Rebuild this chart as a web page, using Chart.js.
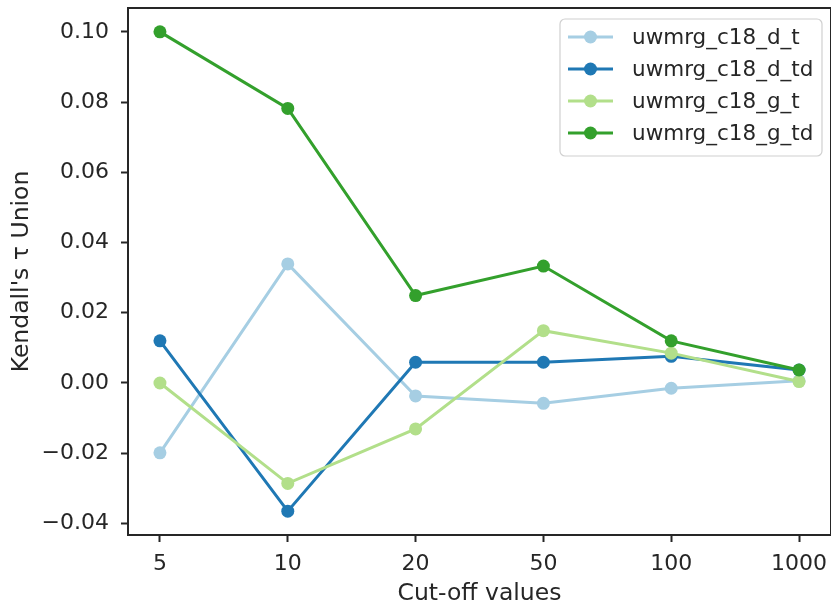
<!DOCTYPE html>
<html>
<head>
<meta charset="utf-8">
<script src="https://cdn.jsdelivr.net/npm/chart.js@4.4.0/dist/chart.umd.min.js"></script>
<style>
  html, body { margin: 0; padding: 0; background: #fff; }
  #wrap { width: 831px; height: 606px; }
</style>
</head>
<body>
<div id="wrap"><canvas id="chart" width="831" height="606"></canvas></div>
<script>
// Data
const cutoffs = ['5', '10', '20', '50', '100', '1000'];
const yTicks = [-0.04, -0.02, 0.00, 0.02, 0.04, 0.06, 0.08, 0.10];

const seriesNames = ['uwmrg_c18_d_t', 'uwmrg_c18_d_td', 'uwmrg_c18_g_t', 'uwmrg_c18_g_td'];
const dT  = [-0.0199, 0.0339, -0.0037, -0.0058, -0.0015, 0.0006];
const dTd = [0.0120, -0.0365, 0.0059, 0.0059, 0.0076, 0.0037];
const gT  = [0.0000, -0.0286, -0.0131, 0.0149, 0.0085, 0.0004];
const gTd = [0.1000, 0.0782, 0.0249, 0.0333, 0.0120, 0.0037];

const colors = ['#a6cee3', '#1f78b4', '#b2df8a', '#33a02c'];
const ink = '#262626';
const font = "'DejaVu Sans', sans-serif";

const toPoints = (vals) => vals.map((v, i) => ({ x: i, y: v }));

// ── frame + legend drawn inside the plot, like matplotlib ──
const framePlugin = {
    id: 'frame',
    afterDraw(chart) {
        const { ctx, chartArea: a } = chart;
        ctx.save();
        ctx.strokeStyle = ink;
        ctx.lineWidth = 2;
        ctx.strokeRect(a.left, a.top, a.right - a.left, a.bottom - a.top);

        // legend box
        const bx = 560, by = 19, bw = 262, bh = 137, r = 5;
        ctx.beginPath();
        ctx.moveTo(bx + r, by);
        ctx.arcTo(bx + bw, by, bx + bw, by + bh, r);
        ctx.arcTo(bx + bw, by + bh, bx, by + bh, r);
        ctx.arcTo(bx, by + bh, bx, by, r);
        ctx.arcTo(bx, by, bx + bw, by, r);
        ctx.closePath();
        ctx.fillStyle = 'rgba(255,255,255,0.8)';
        ctx.fill();
        ctx.strokeStyle = '#d0d0d0';
        ctx.lineWidth = 1.2;
        ctx.stroke();

        ctx.font = '21.5px ' + font;
        ctx.textBaseline = 'middle';
        ctx.textAlign = 'left';
        chart.data.datasets.forEach((ds, i) => {
            const y = 37 + i * 32;
            ctx.strokeStyle = ds.borderColor;
            ctx.lineWidth = 3;
            ctx.beginPath();
            ctx.moveTo(568, y);
            ctx.lineTo(613, y);
            ctx.stroke();
            ctx.fillStyle = ds.borderColor;
            ctx.beginPath();
            ctx.arc(590.5, y, 6.5, 0, Math.PI * 2);
            ctx.fill();
            ctx.fillStyle = ink;
            ctx.fillText(ds.label, 632, y + 1);
        });
        ctx.restore();
    }
};

const allSeries = [dT, dTd, gT, gTd];

new Chart(document.getElementById('chart'), {
    type: 'line',
    data: {
        datasets: allSeries.map((vals, i) => ({
            label: seriesNames[i],
            data: toPoints(vals),
            borderColor: colors[i],
            backgroundColor: colors[i],
            pointBackgroundColor: colors[i],
            pointBorderWidth: 0,
            pointRadius: 6.5,
            borderWidth: 3,
            tension: 0,
            clip: false,
            order: 4 - i,
        }))
    },
    options: {
        responsive: false,
        animation: false,
        layout: { autoPadding: false, padding: { top: 8, right: -1, left: 0, bottom: 0 } },
        plugins: {
            legend: { display: false },
            tooltip: { enabled: false },
        },
        scales: {
            x: {
                type: 'linear',
                min: -0.25,
                max: 5.25,
                afterBuildTicks: (s) => { s.ticks = cutoffs.map((c, i) => ({ value: i })); },
                afterFit: (s) => { s.height = 71; s.paddingLeft = 0; s.paddingRight = 0; },
                ticks: {
                    color: ink,
                    font: { family: font, size: 22 },
                    padding: 9,
                    maxRotation: 0,
                    callback: (v) => cutoffs[v],
                },
                grid: { drawOnChartArea: false, drawTicks: true, tickLength: 7, tickWidth: 2, tickColor: ink },
                border: { display: false },
                title: {
                    display: true,
                    text: 'Cut-off values',
                    color: ink,
                    font: { family: font, size: 23.5 },
                    padding: { top: 0, bottom: -2 },
                },
            },
            y: {
                min: -0.0433,
                max: 0.1068,
                afterBuildTicks: (s) => { s.ticks = yTicks.map((v) => ({ value: v })); },
                afterFit: (s) => { s.width = 128; s.paddingTop = 0; s.paddingBottom = 0; },
                ticks: {
                    color: ink,
                    font: { family: font, size: 22 },
                    padding: 12,
                    callback: (v) => {
                        const t = Math.abs(v) < 1e-9 ? '0.00' : v.toFixed(2);
                        return t.replace('-', '\u2212');
                    },
                },
                grid: { drawOnChartArea: false, drawTicks: true, tickLength: 7, tickWidth: 2, tickColor: ink },
                border: { display: false },
                title: {
                    display: true,
                    text: 'Kendall\'s \u03C4 Union',
                    color: ink,
                    font: { family: font, size: 23.5 },
                    padding: { top: 8, bottom: 0 },
                },
            },
        },
    },
    plugins: [framePlugin],
});
</script>
</body>
</html>
